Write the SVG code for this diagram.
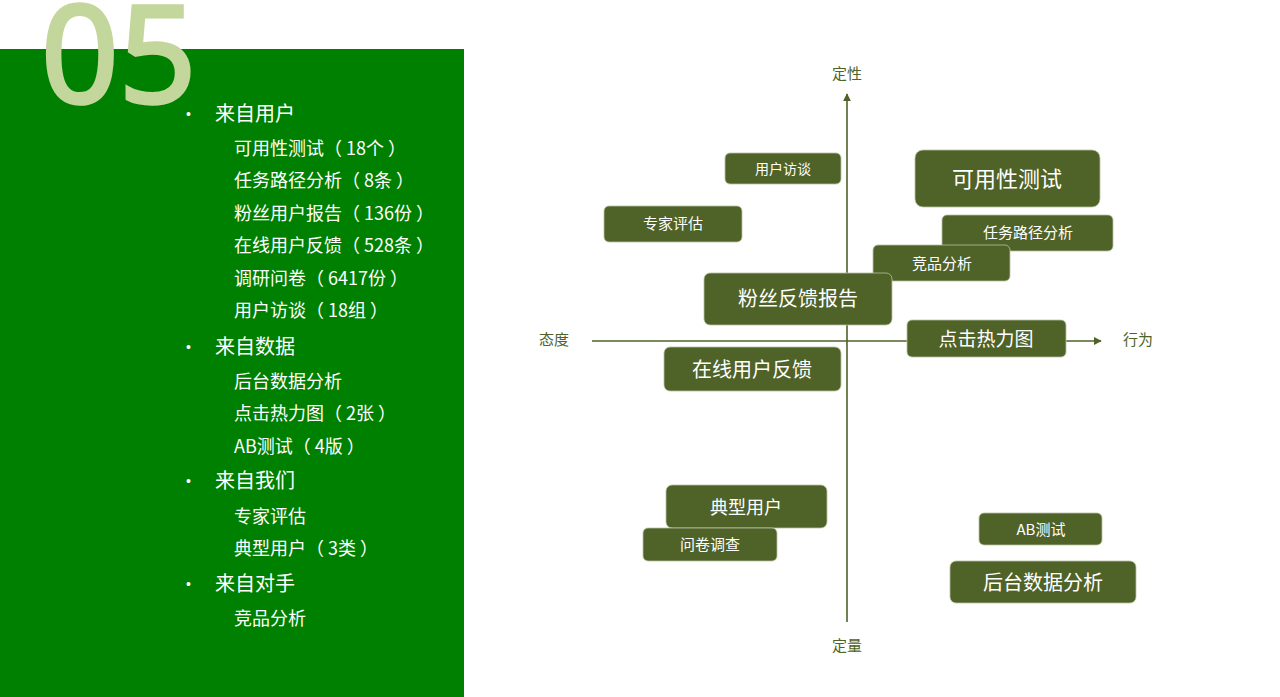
<svg xmlns="http://www.w3.org/2000/svg" width="1280" height="697" viewBox="0 0 1280 697">
<defs>
<marker id="arr" viewBox="0 0 10 10" refX="9" refY="5" markerWidth="8" markerHeight="8" markerUnits="userSpaceOnUse" orient="auto"><path d="M0,0 L10,5 L0,10 z" fill="#4f6228"/></marker>
<style>
.cjk{font-family:"Noto Sans CJK SC","Noto Sans",sans-serif}
.h{font-size:20px;fill:#ffffff}
.s{font-size:18px;fill:#ffffff}
.b{font-size:14px;fill:#ffffff;font-family:"Liberation Sans",sans-serif}
.ax{font-size:15px;fill:#4f6228;text-anchor:middle}
.box{fill:#4f6228;stroke:#b9c3a3;stroke-width:0.8}
.bt{fill:#ffffff;text-anchor:middle}
.axis{stroke:#4f6228;stroke-width:1.6;fill:none}
</style>
</defs>
<rect x="0" y="0" width="1280" height="697" fill="#ffffff"/>
<rect id="panel" x="0" y="49" width="464" height="648" fill="#008000"/>
<text x="41" y="103" font-family="'Noto Sans','Liberation Sans',sans-serif" font-weight="400" font-size="136" fill="#c3d69b" stroke="#c3d69b" stroke-width="3.5">05</text>
<g id="list" class="cjk">
<text class="b" x="186" y="119">•</text><text class="h cjk" x="215" y="121">来自用户</text>
<text class="s cjk" x="234" y="155">可用性测试（ 18个 ）</text>
<text class="s cjk" x="234" y="187">任务路径分析（ 8条 ）</text>
<text class="s cjk" x="234" y="220">粉丝用户报告（ 136份 ）</text>
<text class="s cjk" x="234" y="252">在线用户反馈（ 528条 ）</text>
<text class="s cjk" x="234" y="285">调研问卷（ 6417份 ）</text>
<text class="s cjk" x="234" y="317">用户访谈（ 18组 ）</text>
<text class="b" x="186" y="352">•</text><text class="h cjk" x="215" y="354">来自数据</text>
<text class="s cjk" x="234" y="388">后台数据分析</text>
<text class="s cjk" x="234" y="420">点击热力图（ 2张 ）</text>
<text class="s cjk" x="234" y="453">AB测试（ 4版 ）</text>
<text class="b" x="186" y="486">•</text><text class="h cjk" x="215" y="488">来自我们</text>
<text class="s cjk" x="234" y="523">专家评估</text>
<text class="s cjk" x="234" y="555">典型用户（ 3类 ）</text>
<text class="b" x="186" y="589">•</text><text class="h cjk" x="215" y="591">来自对手</text>
<text class="s cjk" x="234" y="625">竞品分析</text>
</g>
<g id="connectors">
<line class="axis" x1="592" y1="341" x2="1101" y2="341" marker-end="url(#arr)"/>
<line class="axis" x1="847" y1="622" x2="847" y2="94" marker-end="url(#arr)"/>
</g>
<g id="axis-labels" class="cjk">
<text class="ax cjk" x="847" y="79">定性</text>
<text class="ax cjk" x="847" y="651">定量</text>
<text class="ax cjk" x="554" y="345">态度</text>
<text class="ax cjk" x="1138" y="345">行为</text>
</g>
<g id="n-yhft"><rect class="box" x="725" y="153" width="116" height="31" rx="5"/><text class="bt cjk" x="783" y="174" font-size="14">用户访谈</text></g>
<g id="n-kyxcs"><rect class="box" x="915" y="150" width="185" height="57" rx="8"/><text class="bt cjk" x="1007" y="187" font-size="22">可用性测试</text></g>
<g id="n-zjpg"><rect class="box" x="604" y="206" width="138" height="36" rx="5"/><text class="bt cjk" x="673" y="229" font-size="15">专家评估</text></g>
<g id="n-rwljfx"><rect class="box" x="942" y="215" width="171" height="36" rx="5"/><text class="bt cjk" x="1028" y="238" font-size="15">任务路径分析</text></g>
<g id="n-jpfx"><rect class="box" x="873" y="245" width="137" height="36" rx="5"/><text class="bt cjk" x="942" y="269" font-size="15">竞品分析</text></g>
<g id="n-fsfkbg"><rect class="box" x="704" y="273" width="188" height="52" rx="6"/><text class="bt cjk" x="798" y="306" font-size="20">粉丝反馈报告</text></g>
<g id="n-djrlt"><rect class="box" x="907" y="320" width="159" height="37" rx="5"/><text class="bt cjk" x="986" y="346" font-size="19">点击热力图</text></g>
<g id="n-zxyhfk"><rect class="box" x="664" y="347" width="177" height="44" rx="6"/><text class="bt cjk" x="752" y="377" font-size="20">在线用户反馈</text></g>
<g id="n-dxyh"><rect class="box" x="666" y="485" width="161" height="43" rx="6"/><text class="bt cjk" x="746" y="514" font-size="18">典型用户</text></g>
<g id="n-wjdc"><rect class="box" x="643" y="528" width="134" height="33" rx="5"/><text class="bt cjk" x="710" y="550" font-size="15">问卷调查</text></g>
<g id="n-abcs"><rect class="box" x="979" y="513" width="123" height="32" rx="5"/><text class="bt cjk" x="1041" y="535" font-size="15">AB测试</text></g>
<g id="n-htsjfx"><rect class="box" x="950" y="561" width="186" height="42" rx="6"/><text class="bt cjk" x="1043" y="590" font-size="20">后台数据分析</text></g>
</svg>
